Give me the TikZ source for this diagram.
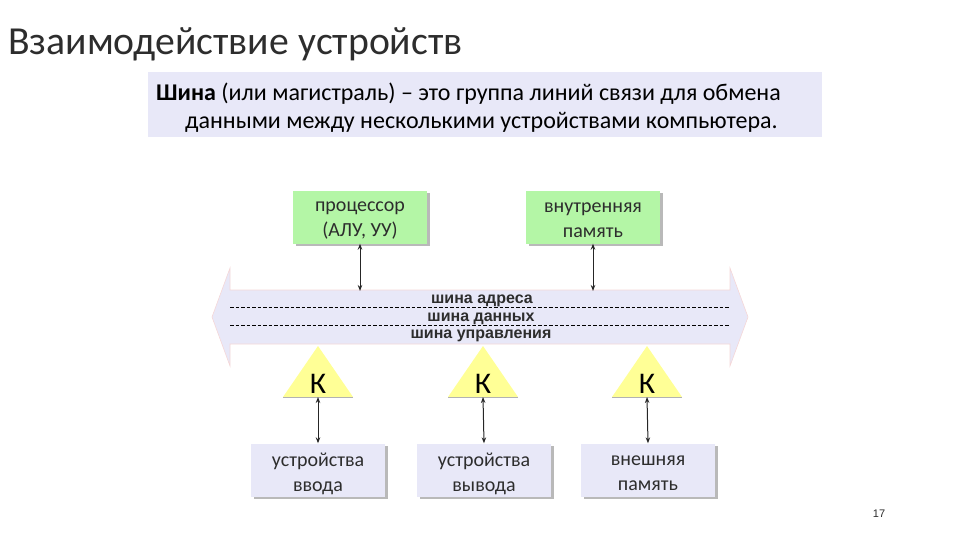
\documentclass[tikz,border=0pt]{standalone}
\usepackage{fontspec}
\setmainfont{Carlito}
\newfontfamily\arialfont{Liberation Sans}
\usetikzlibrary{arrows.meta,shadows}
\definecolor{lavender}{RGB}{232,232,248}
\definecolor{lightgreen}{RGB}{180,246,166}
\definecolor{lightyellow}{RGB}{255,255,150}
\definecolor{textgray}{RGB}{45,45,45}
\definecolor{busedge}{RGB}{245,215,215}

\tikzset{
	unit/.style={minimum width=134pt, minimum height=53pt, inner sep=0pt,
		drop shadow={shadow xshift=2.5pt, shadow yshift=-2.5pt, fill=gray!55, opacity=1}},
	unittext/.style={align=center, inner sep=0pt, font=\fontsize{20}{25}\selectfont, text=textgray},
	cpu/.style={unit, fill=lightgreen},
	dev/.style={unit, fill=lavender},
	link/.style={{Stealth[length=6pt,width=4.5pt]}-{Stealth[length=6pt,width=4.5pt]}, line width=1pt, draw=black!85},
	busline/.style={line width=0.5pt, dash pattern=on 3.5pt off 2pt},
	buslabel/.style={font=\arialfont\bfseries\fontsize{16}{16}\selectfont, text=textgray, inner sep=0pt, anchor=base},
	klabel/.style={font=\fontsize{30}{30}\selectfont, inner sep=0pt}
}

\begin{document}
\begin{tikzpicture}[x=1pt, y=-1pt]
	\useasboundingbox (0,0) rectangle (960,540);

	% title
	\node[anchor=base west, inner sep=0pt, font=\fontsize{39.7}{40}\selectfont, text=textgray] (title) at (8,55) {Взаимодействие устройств};

	% definition
	\fill[lavender] (148,72) rectangle (822,137);
	\node[anchor=base west, inner sep=0pt, font=\fontsize{24}{24}\selectfont] (def1) at (156,101) {\textbf{Шина} (или магистраль) -- это группа линий связи для обмена};
	\node[anchor=base west, inner sep=0pt, font=\fontsize{24}{24}\selectfont] (def2) at (185,129) {данными между несколькими устройствами компьютера.};

	% units
	\node[cpu] (cpu) at (360,217) {};
	\node[unittext] (cpu-text) at ([yshift=-3.5pt]cpu.center) {процессор\\(АЛУ, УУ)};
	\node[cpu] (mem) at (593,217) {};
	\node[unittext] (mem-text) at ([yshift=-3.5pt]mem.center) {внутренняя\\память};

	% bus
	\filldraw[fill=lavender, draw=busedge, line width=0.6pt]
		(212,317) -- (230,268) -- (230,290) -- (730,290) -- (730,268) -- (748,317)
		-- (730,366) -- (730,344) -- (230,344) -- (230,366) -- cycle;
	\draw[busline] (230,307) -- (730,307);
	\draw[busline] (230,325) -- (730,325);
	\node[buslabel] (addr) at (482,303.5) {шина адреса};
	\node[buslabel] (data) at (481,321.5) {шина данных};
	\node[buslabel] (ctrl) at (481,338.5) {шина управления};
	\coordinate (cpubus) at (cpu.south |- 0,291);
	\coordinate (membus) at (mem.south |- 0,291);

	% controllers
	\foreach \x/\n in {318/k1, 483/k2, 647/k3} {
		\fill[lightyellow] (\x-35,397) -- (\x,346) -- (\x+35,397) -- cycle;
		\draw[gray!60, line width=0.8pt] (\x-35,397) -- (\x+35,397);
		\node[klabel, anchor=base] (\n) at (\x,393) {К};
		\coordinate (\n-base) at (\x,397);
	}

	% devices
	\node[dev] (in) at (318,470) {};
	\node[unittext] (in-text) at ([yshift=-3.5pt]in.center) {устройства\\ввода};
	\node[dev] (out) at (484,470) {};
	\node[unittext] (out-text) at ([yshift=-3.5pt]out.center) {устройства\\вывода};
	\node[dev] (ext) at (648,470) {};
	\node[unittext] (ext-text) at ([yshift=-3.5pt]ext.center) {внешняя\\память};

	% links
	\draw[link] (cpu.south) -- (cpubus);
	\draw[link] (mem.south) -- (membus);
	\draw[link] (k1-base) -- (in.north);
	\draw[link] (k2-base) -- (out.north);
	\draw[link] (k3-base) -- (ext.north);

	% page number
	\node[font=\arialfont\fontsize{11}{12}\selectfont, text=textgray] (page) at (879,514) {17};
\end{tikzpicture}
\end{document}
